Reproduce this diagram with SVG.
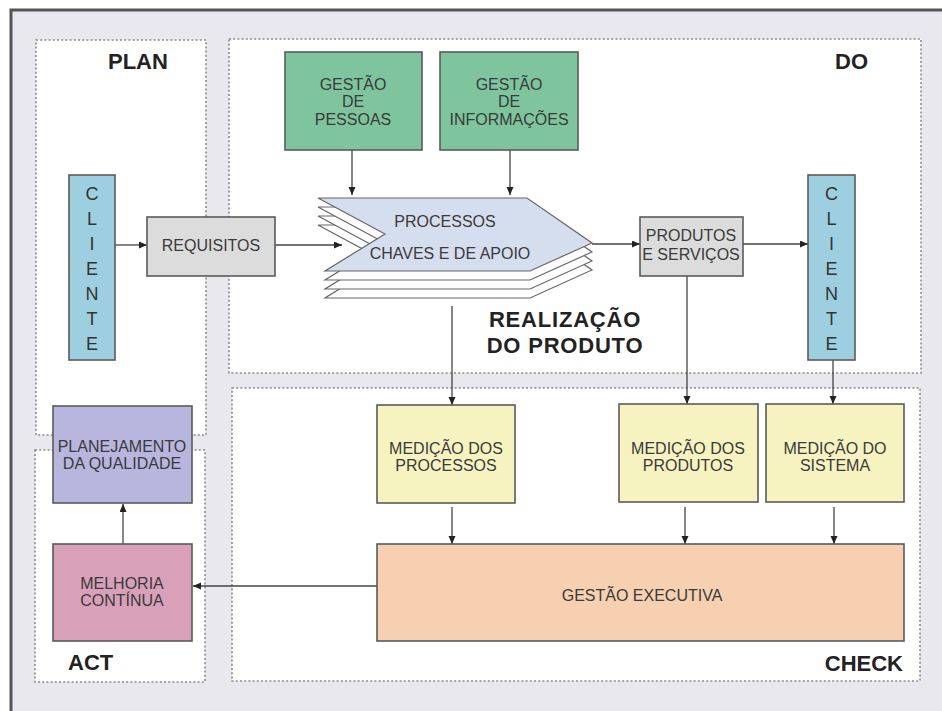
<svg xmlns="http://www.w3.org/2000/svg" width="942" height="711" viewBox="0 0 942 711">
<defs>
<style>
.panel{fill:#ffffff;stroke:#8a8a8a;stroke-width:1.6;stroke-dasharray:2 2.2}
.box{stroke:#5a5a5a;stroke-width:1.6}
.t{font-family:"Liberation Sans",Arial,sans-serif;font-size:16px;fill:#3a3a3a;text-anchor:middle}
.ph{font-family:"Liberation Sans",Arial,sans-serif;font-size:22px;font-weight:bold;fill:#222}
.cl{font-family:"Liberation Sans",Arial,sans-serif;font-size:18px;fill:#333;text-anchor:middle}
.c{stroke:#444;stroke-width:1.3;fill:none;marker-end:url(#ah)}
.sheet{fill:#ffffff;stroke:#666;stroke-width:1.2}
</style>
<marker id="ah" markerUnits="userSpaceOnUse" markerWidth="9" markerHeight="8" refX="8" refY="3.5" orient="auto">
<path d="M0,0 L8,3.5 L0,7 Z" fill="#222"/>
</marker>
</defs>
<rect x="0" y="0" width="942" height="711" fill="#ffffff"/>
<rect x="11" y="10" width="931" height="701" fill="#e8e8ee"/>
<path d="M11,711 L11,10 L942,10" fill="none" stroke="#555" stroke-width="3"/>

<g id="panels">
<rect class="panel" x="36" y="40" width="170" height="395"/>
<rect class="panel" x="35" y="450" width="170" height="232"/>
<rect class="panel" x="229" y="39" width="692" height="334"/>
<rect class="panel" x="232" y="388" width="688" height="293"/>
<text class="ph" x="108" y="69">PLAN</text>
<text class="ph" x="868" y="69" text-anchor="end">DO</text>
<text class="ph" x="68" y="670">ACT</text>
<text class="ph" x="903" y="671" text-anchor="end">CHECK</text>
<text class="ph" x="565" y="327" text-anchor="middle" letter-spacing="0.8">REALIZAÇÃO</text>
<text class="ph" x="565" y="353" text-anchor="middle" letter-spacing="0.8">DO PRODUTO</text>
</g>

<g id="connectors">
<line class="c" x1="115" y1="245" x2="147" y2="245"/>
<line class="c" x1="275" y1="245" x2="342" y2="245"/>
<line class="c" x1="352" y1="150" x2="352" y2="195"/>
<line class="c" x1="510" y1="150" x2="510" y2="195"/>
<line class="c" x1="592" y1="244" x2="640" y2="244"/>
<line class="c" x1="743" y1="244" x2="808" y2="244"/>
<line class="c" x1="452" y1="306" x2="452" y2="405"/>
<line class="c" x1="687" y1="276" x2="687" y2="404"/>
<line class="c" x1="833" y1="360" x2="833" y2="404"/>
<line class="c" x1="452" y1="507" x2="452" y2="544"/>
<line class="c" x1="685" y1="507" x2="685" y2="544"/>
<line class="c" x1="834" y1="507" x2="834" y2="544"/>
<line class="c" x1="377" y1="586" x2="193" y2="586"/>
<line class="c" x1="123" y1="544" x2="123" y2="504"/>
</g>

<g id="gestao-pessoas">
<rect class="box" x="285" y="52" width="137" height="98" fill="#7ec59e"/>
<text class="t" x="353" y="90">GESTÃO</text>
<text class="t" x="353" y="107">DE</text>
<text class="t" x="353" y="125">PESSOAS</text>
</g>
<g id="gestao-informacoes">
<rect class="box" x="440" y="52" width="138" height="98" fill="#7ec59e"/>
<text class="t" x="509" y="90">GESTÃO</text>
<text class="t" x="509" y="107">DE</text>
<text class="t" x="509" y="125">INFORMAÇÕES</text>
</g>

<g id="cliente-esq">
<rect class="box" x="69" y="175" width="46" height="185" fill="#9ecfe0"/>
<text class="cl" x="92" y="200">C</text>
<text class="cl" x="92" y="225">L</text>
<text class="cl" x="92" y="250">I</text>
<text class="cl" x="92" y="275">E</text>
<text class="cl" x="92" y="300">N</text>
<text class="cl" x="92" y="325">T</text>
<text class="cl" x="92" y="350">E</text>
</g>

<g id="requisitos">
<rect class="box" x="147" y="217" width="128" height="59" fill="#dcdcdc"/>
<text class="t" x="211" y="251">REQUISITOS</text>
</g>

<g id="processos">
<path class="sheet" d="M318,225 L527,225 L592,270 L530,298 L325,298 L385,261 Z"/>
<path class="sheet" d="M318,216 L527,216 L592,261 L530,289 L325,289 L385,252 Z"/>
<path class="sheet" d="M318,207 L527,207 L592,252 L530,280 L325,280 L385,243 Z"/>
<path d="M318,198 L527,198 L592,243 L530,271 L325,271 L385,234 Z" fill="#d5deee" stroke="#666" stroke-width="1.2"/>
<text class="t" x="445" y="227">PROCESSOS</text>
<text class="t" x="450" y="259">CHAVES E  DE  APOIO</text>
</g>

<g id="produtos-servicos">
<rect class="box" x="640" y="217" width="103" height="59" fill="#dcdcdc"/>
<text class="t" x="691" y="241">PRODUTOS</text>
<text class="t" x="691" y="260">E SERVIÇOS</text>
</g>

<g id="cliente-dir">
<rect class="box" x="808" y="175" width="47" height="185" fill="#9ecfe0"/>
<text class="cl" x="831.5" y="200">C</text>
<text class="cl" x="831.5" y="225">L</text>
<text class="cl" x="831.5" y="250">I</text>
<text class="cl" x="831.5" y="275">E</text>
<text class="cl" x="831.5" y="300">N</text>
<text class="cl" x="831.5" y="325">T</text>
<text class="cl" x="831.5" y="350">E</text>
</g>

<g id="medicao-processos">
<rect class="box" x="377" y="405" width="138" height="98" fill="#f6f3c0"/>
<text class="t" x="446" y="454">MEDIÇÃO DOS</text>
<text class="t" x="446" y="471">PROCESSOS</text>
</g>
<g id="medicao-produtos">
<rect class="box" x="619" y="404" width="139" height="98" fill="#f6f3c0"/>
<text class="t" x="688" y="454">MEDIÇÃO DOS</text>
<text class="t" x="688" y="471">PRODUTOS</text>
</g>
<g id="medicao-sistema">
<rect class="box" x="766" y="404" width="138" height="98" fill="#f6f3c0"/>
<text class="t" x="835" y="454">MEDIÇÃO DO</text>
<text class="t" x="835" y="471">SISTEMA</text>
</g>

<g id="gestao-executiva">
<rect class="box" x="377" y="544" width="527" height="97" fill="#f6d0b0"/>
<text class="t" x="642" y="601">GESTÃO EXECUTIVA</text>
</g>

<g id="planejamento">
<rect class="box" x="53" y="406" width="139" height="97" fill="#b8b5de"/>
<text class="t" x="122" y="452">PLANEJAMENTO</text>
<text class="t" x="122" y="469">DA QUALIDADE</text>
</g>
<g id="melhoria">
<rect class="box" x="53" y="544" width="139" height="97" fill="#d9a1b9"/>
<text class="t" x="122" y="589">MELHORIA</text>
<text class="t" x="122" y="606">CONTÍNUA</text>
</g>
</svg>
